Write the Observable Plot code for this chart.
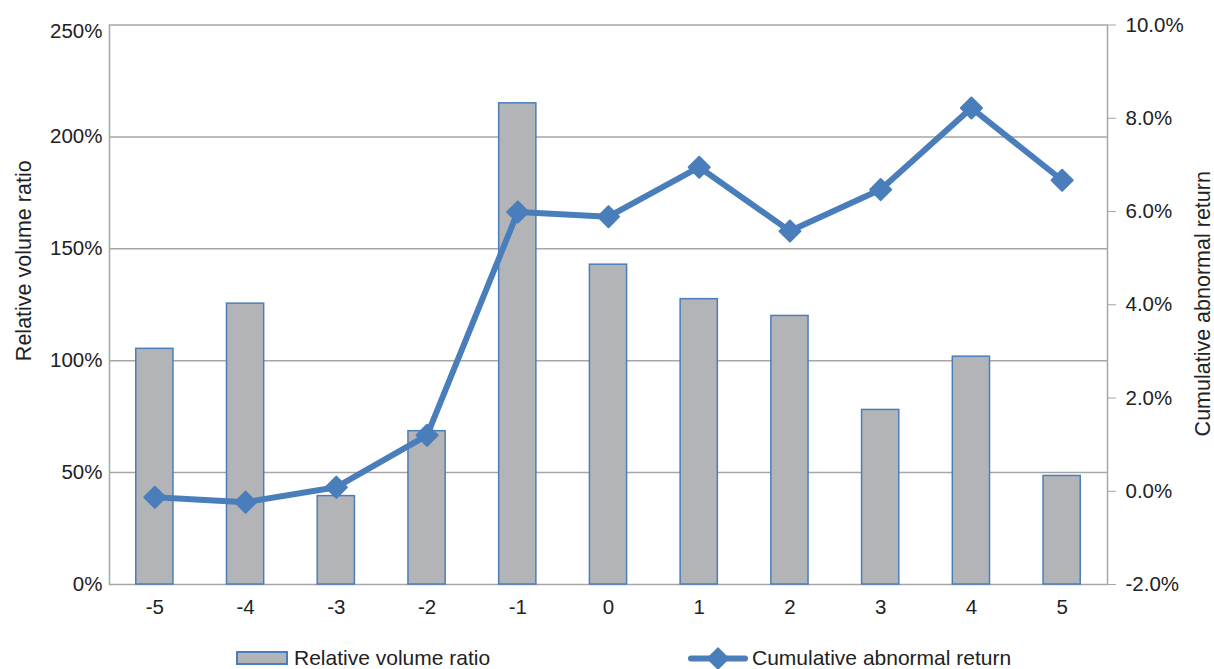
<!DOCTYPE html>
<html><head><meta charset="utf-8">
<script src="https://cdn.jsdelivr.net/npm/d3@7"></script>
<script src="https://cdn.jsdelivr.net/npm/@observablehq/plot@0.6"></script>
<style>
body{margin:0;background:#fff;font-family:"Liberation Sans",Arial,sans-serif;color:#222;}
#legend{position:relative;width:1214px;height:29px;font-size:21px;}
#legend span{position:absolute;top:5px;line-height:26px;white-space:nowrap;}
</style>
</head><body><div id="chart"></div><div id="legend"></div><script>
const days = ["-5","-4","-3","-2","-1","0","1","2","3","4","5"];
const volumeRatio = [105.3,125.5,39.5,68.5,215,142.9,127.5,120,78,101.8,48.5];
const cumAbnReturn = [-0.13,-0.235,0.087,1.2,5.99,5.89,6.95,5.58,6.47,8.22,6.67];
const leftTicks = [0,50,100,150,200,250];
const rightTicks = [-2,0,2,4,6,8,10];
const seriesNames = ["Relative volume ratio","Cumulative abnormal return"];

const barColor = "#b3b4b8", blue = "#4a7ebb", gridColor = "#a6a6a6";
const toLeft = v => (v + 2) / 12 * 250;
const data = days.map((d, i) => ({day: d, vol: volumeRatio[i], car: cumAbnReturn[i]}));
const pct = d => d + "%";

const chart = Plot.plot({
  width: 1214, height: 640,
  marginTop: 24.5, marginBottom: 56, marginLeft: 109, marginRight: 107,
  style: {fontFamily: '"Liberation Sans",Arial,sans-serif', fontSize: "20.5px", color: "#222", background: "#fff"},
  x: {type: "band", domain: days, paddingInner: 0.59, paddingOuter: 0.295, round: false},
  y: {domain: [0, 250]},
  marks: [
    Plot.gridY(leftTicks.slice(1, -1), {stroke: gridColor, strokeOpacity: 1, strokeWidth: 1.5}),
    Plot.frame({stroke: gridColor, strokeWidth: 1.5}),
    Plot.barY(data, {x: "day", y: "vol", fill: barColor, stroke: blue, strokeWidth: 1.5}),
    Plot.line(data, {x: "day", y: d => toLeft(d.car), stroke: blue, strokeWidth: 6, strokeLinejoin: "round"}),
    Plot.dot(data, {x: "day", y: d => toLeft(d.car), symbol: "diamond2", r: 9.5, fill: blue, stroke: blue, strokeWidth: 2, strokeLinejoin: "round"}),
    Plot.axisY(leftTicks.slice(0, -1), {anchor: "left", tickSize: 0, tickPadding: 7, tickFormat: pct, label: null}),
    Plot.axisY(leftTicks.slice(-1), {anchor: "left", tickSize: 0, tickPadding: 7, tickFormat: pct, label: null, dy: 6}),
    Plot.axisY(rightTicks.map(toLeft), {anchor: "right", tickSize: 8, tickPadding: 10, stroke: gridColor,
      tickFormat: d => (Math.round((d / 250 * 12 - 2) * 10) / 10).toFixed(1) + "%", label: null}),
    Plot.axisX({tickSize: 0, tickPadding: 15, label: null}),
    Plot.text([seriesNames[0]], {frameAnchor: "left", textAnchor: "middle", dx: -85, dy: -44, rotate: -90, fontSize: 21.5}),
    Plot.text([seriesNames[1]], {frameAnchor: "right", textAnchor: "middle", dx: 96, dy: -1, rotate: -90, fontSize: 21.5})
  ]
});
document.getElementById("chart").appendChild(chart);

const legend = document.getElementById("legend");
legend.innerHTML = `
<div style="position:absolute;left:236px;top:11px;width:48px;height:10px;background:${barColor};border:2px solid ${blue};"></div>
<span style="left:294px">${seriesNames[0]}</span>
<svg style="position:absolute;left:688px;top:0" width="60" height="29">
  <line x1="3" x2="57" y1="18.5" y2="18.5" stroke="${blue}" stroke-width="6" stroke-linecap="round"/>
  <path d="M30,8 L40.5,18.5 L30,29 L19.5,18.5Z" fill="${blue}" stroke="${blue}" stroke-width="1.5" stroke-linejoin="round"/>
</svg>
<span style="left:752px">${seriesNames[1]}</span>`;
</script></body></html>
